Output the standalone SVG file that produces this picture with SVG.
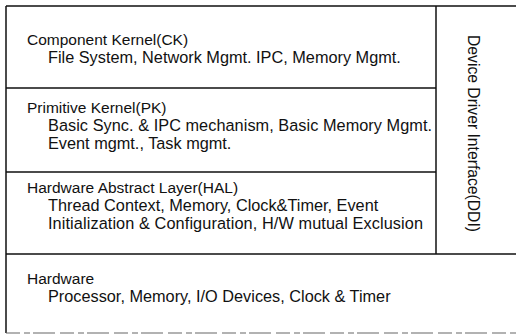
<svg xmlns="http://www.w3.org/2000/svg" width="516" height="335" viewBox="0 0 516 335">
<style>
.ln{stroke:#111;stroke-width:1.5;fill:none}
.faint{stroke:#666;stroke-width:1.2;fill:none;stroke-dasharray:14 4 6 3 22 5}
.t{font-family:"Liberation Sans",Arial,sans-serif;font-size:15.5px;fill:#111}
.b{font-family:"Liberation Sans",Arial,sans-serif;font-size:16.3px;fill:#111}
.v{font-family:"Liberation Sans",Arial,sans-serif;font-size:15.7px;fill:#111}
</style>
<rect width="516" height="335" fill="#fff"/>
<g id="ck">
<path class="ln" d="M6 6H516M6 6V88"/>
<text class="t" x="27" y="45">Component Kernel(CK)</text>
<text class="b" x="48" y="63">File System, Network Mgmt. IPC, Memory Mgmt.</text>
</g>
<g id="pk">
<path class="ln" d="M6 88H436M6 88V172"/>
<text class="t" x="27" y="113">Primitive Kernel(PK)</text>
<text class="b" x="48" y="131" textLength="384">Basic Sync. &amp; IPC mechanism, Basic Memory Mgmt.</text>
<text class="b" x="48" y="149">Event mgmt., Task mgmt.</text>
</g>
<g id="hal">
<path class="ln" d="M6 172H436M6 172V254"/>
<text class="t" x="27" y="193">Hardware Abstract Layer(HAL)</text>
<text class="b" x="48" y="211">Thread Context, Memory, Clock&amp;Timer, Event</text>
<text class="b" x="48" y="229" textLength="375">Initialization &amp; Configuration, H/W mutual Exclusion</text>
</g>
<g id="ddi">
<path class="ln" d="M436 6V254"/>
<text class="v" transform="translate(468,35) rotate(90)">Device Driver Interface(DDI)</text>
</g>
<g id="hw">
<path class="ln" d="M6 254H516M6 254V333"/>
<path class="faint" d="M6 333H516"/>
<text class="t" x="27" y="284">Hardware</text>
<text class="b" x="48" y="302">Processor, Memory, I/O Devices, Clock &amp; Timer</text>
</g>
<g id="connectors"></g>
</svg>
